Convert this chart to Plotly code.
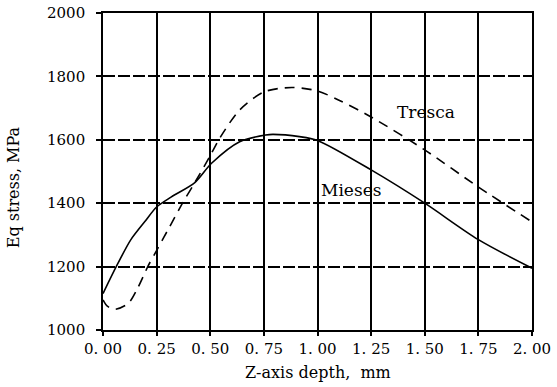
import plotly.graph_objects as go

tresca_x = [0, 0.02, 0.056, 0.118, 0.16, 0.211, 0.251, 0.31, 0.374, 0.428, 0.5, 0.544, 0.637, 0.75, 0.88, 1.0, 1.1, 1.25, 1.5, 1.75, 2.0]
tresca_y = [1095, 1075, 1065, 1084, 1130, 1203, 1252, 1325, 1404, 1465, 1550, 1605, 1694, 1751, 1765, 1754, 1725, 1672, 1568, 1451, 1341]

mieses_x = [0, 0.064, 0.13, 0.195, 0.25, 0.319, 0.428, 0.506, 0.637, 0.758, 0.792, 0.916, 1.0, 1.25, 1.5, 1.75, 2.0]
mieses_y = [1115, 1203, 1285, 1342, 1388, 1420, 1465, 1526, 1594, 1615, 1617, 1610, 1598, 1505, 1400, 1285, 1195]

x_ticks = [0, 0.25, 0.5, 0.75, 1.0, 1.25, 1.5, 1.75, 2.0]
x_labels = ["0. 00", "0. 25", "0. 50", "0. 75", "1. 00", "1. 25", "1. 50", "1. 75", "2. 00"]
y_ticks = [1000, 1200, 1400, 1600, 1800, 2000]

x_title = "Z-axis depth,  mm"
y_title = "Eq stress, MPa"

font = "DejaVu Serif"

fig = go.Figure()
fig.add_trace(go.Scatter(x=tresca_x, y=tresca_y, mode="lines",
                         line=dict(color="black", width=1.6, dash="10px,7px", shape="spline", smoothing=0.8),
                         name="Tresca"))
fig.add_trace(go.Scatter(x=mieses_x, y=mieses_y, mode="lines",
                         line=dict(color="black", width=1.6, shape="spline", smoothing=0.8),
                         name="Mieses"))

fig.add_annotation(x=1.507, y=1688, text="Tresca", showarrow=False, font=dict(family=font, size=17, color="black"))
fig.add_annotation(x=1.158, y=1442, text="Mieses", showarrow=False, font=dict(family=font, size=17, color="black"))

fig.add_annotation(xref="paper", yref="paper", x=0.5, y=-0.1325, xanchor="center", yanchor="middle",
                   text=x_title, showarrow=False, font=dict(family=font, size=16, color="black"))
fig.add_annotation(xref="paper", yref="paper", x=-0.21, y=0.45, xanchor="center", yanchor="middle",
                   text=y_title, textangle=-90, showarrow=False, font=dict(family=font, size=16, color="black"))

fig.update_layout(
    width=557, height=387,
    margin=dict(l=103, r=25, t=13, b=57),
    paper_bgcolor="white", plot_bgcolor="white",
    showlegend=False,
    font=dict(family=font, size=15, color="black"),
    xaxis=dict(range=[0, 2.0], tickvals=x_ticks, ticktext=x_labels, automargin=False,
               showgrid=True, gridcolor="black", gridwidth=1.8, griddash="solid",
               showline=True, linecolor="black", linewidth=1.6, mirror=True,
               ticks="outside", ticklen=4, tickcolor="black", tickwidth=1.5,
               zeroline=False, tickfont=dict(family=font, size=15)),
    yaxis=dict(range=[1000, 2000], tickvals=y_ticks, automargin=False,
               showgrid=True, gridcolor="black", gridwidth=1.6, griddash="12px,3px",
               showline=True, linecolor="black", linewidth=1.6, mirror=True,
               ticks="outside", ticklen=5, tickcolor="black", tickwidth=1.5,
               zeroline=False, tickfont=dict(family=font, size=15), ticklabelstandoff=8),
)

fig.write_html("out.html")
